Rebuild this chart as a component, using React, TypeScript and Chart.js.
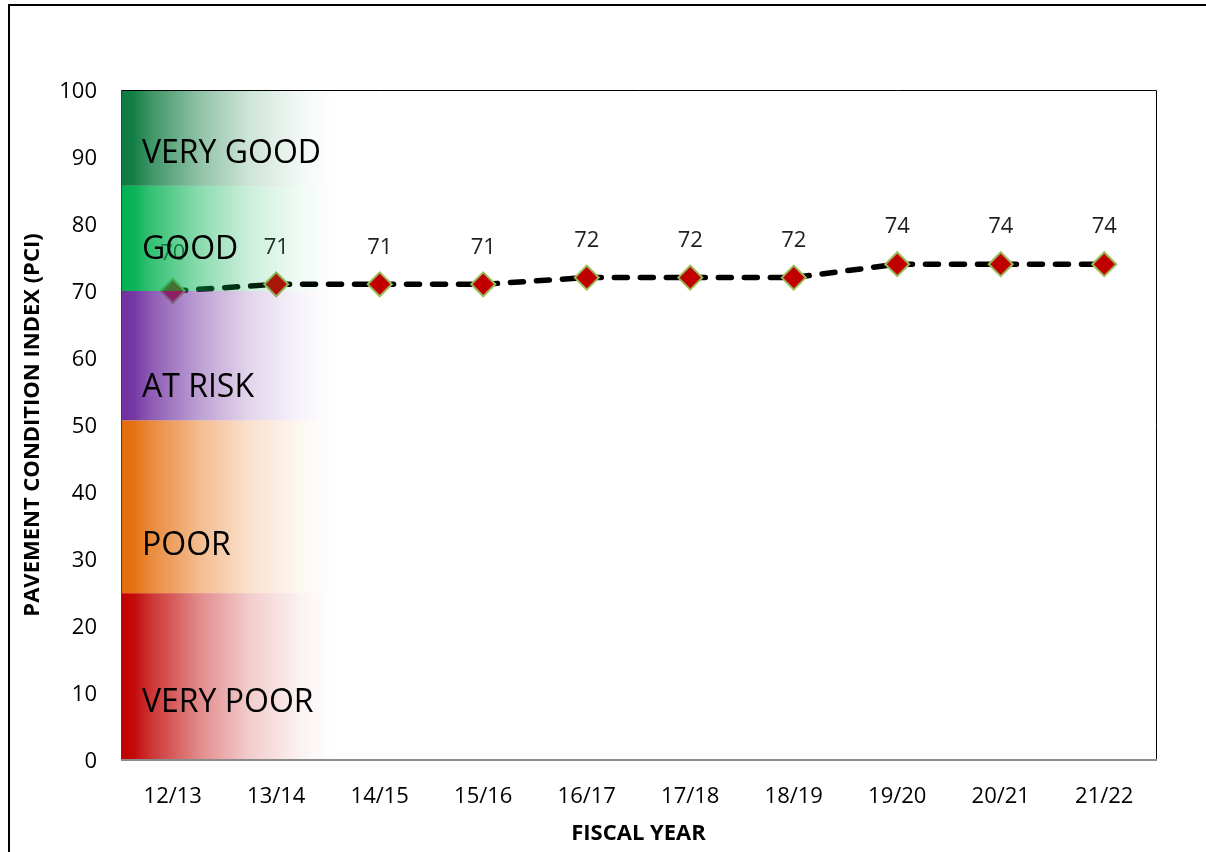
import React, { useEffect, useRef } from "react";
import { Chart, registerables } from "chart.js";

Chart.register(...registerables);

const categories = ["12/13", "13/14", "14/15", "15/16", "16/17", "17/18", "18/19", "19/20", "20/21", "21/22"];
const pciValues = [70, 71, 71, 71, 72, 72, 72, 74, 74, 74];

const bandNames = ["VERY POOR", "POOR", "AT RISK", "GOOD", "VERY GOOD"];
const bandLower = [0, 24.9, 50.7, 70, 85.7];
const bandUpper = [24.9, 50.7, 70, 85.7, 100];
const bandColors = ["192,0,0", "228,108,10", "112,48,160", "0,176,80", "11,122,62"];
const bandLabelValues = [7.2, 30.6, 54.2, 74.8, 89.1];

const yMin = 0;
const yMax = 100;
const yStep = 10;

const FONT = '"Open Sans", "Noto Sans", sans-serif';

const overlayPlugin = {
  id: "overlayPlugin",
  afterDatasetsDraw(chart: any) {
    const { ctx, chartArea: a, scales } = chart;
    const x = scales.x;
    const y = scales.y;
    ctx.save();

    // value labels
    ctx.font = `22px ${FONT}`;
    ctx.fillStyle = "#1f1f1f";
    ctx.textAlign = "center";
    ctx.textBaseline = "middle";
    pciValues.forEach((v, i) => {
      const px = x.getPixelForValue(i);
      const py = y.getPixelForValue(v);
      ctx.fillText(String(v), px, py - 37);
    });

    // bands (gradient overlay fading to the right)
    const fadeW = 214;
    bandColors.forEach((c, i) => {
      const top = y.getPixelForValue(bandUpper[i]);
      const bot = y.getPixelForValue(bandLower[i]);
      const g = ctx.createLinearGradient(a.left, 0, a.left + fadeW, 0);
      g.addColorStop(0, `rgba(${c},1)`);
      g.addColorStop(0.06, `rgba(${c},0.96)`);
      g.addColorStop(0.135, `rgba(${c},0.8)`);
      g.addColorStop(0.37, `rgba(${c},0.45)`);
      g.addColorStop(0.6, `rgba(${c},0.2)`);
      g.addColorStop(0.84, `rgba(${c},0.05)`);
      g.addColorStop(1, `rgba(${c},0)`);
      ctx.fillStyle = g;
      ctx.fillRect(a.left, top, fadeW, bot - top);
    });

    // band names
    ctx.font = `32px ${FONT}`;
    ctx.fillStyle = "#000";
    ctx.textAlign = "left";
    ctx.textBaseline = "alphabetic";
    bandNames.forEach((n, i) => {
      ctx.fillText(n, a.left + 21, y.getPixelForValue(bandLabelValues[i]));
    });

    // plot border
    ctx.lineWidth = 1;
    ctx.strokeStyle = "#000";
    ctx.beginPath();
    ctx.moveTo(a.left, a.top + 0.5);
    ctx.lineTo(a.right + 0.5, a.top + 0.5);
    ctx.lineTo(a.right + 0.5, a.bottom);
    ctx.stroke();
    ctx.strokeStyle = "#404040";
    ctx.beginPath();
    ctx.moveTo(a.left + 0.5, a.top);
    ctx.lineTo(a.left + 0.5, a.bottom);
    ctx.stroke();
    ctx.strokeStyle = "#8c8c8c";
    ctx.lineWidth = 2;
    ctx.beginPath();
    ctx.moveTo(a.left, a.bottom);
    ctx.lineTo(a.right + 1, a.bottom);
    ctx.stroke();

    ctx.restore();
  },
};

export default function App() {
  const canvasRef = useRef<HTMLCanvasElement | null>(null);

  useEffect(() => {
    const canvas = canvasRef.current;
    if (!canvas) return;
    const chart = new Chart(canvas, {
      type: "line",
      data: {
        labels: categories,
        datasets: [
          {
            data: pciValues,
            borderColor: "#000",
            borderWidth: 5.5,
            borderDash: [13, 13],
            borderCapStyle: "round",
            tension: 0,
            fill: false,
            pointStyle: "rectRot",
            pointRadius: 12,
            pointHoverRadius: 12,
            pointBackgroundColor: "#C00000",
            pointBorderColor: "#9BBB59",
            pointBorderWidth: 2,
          },
        ],
      },
      options: {
        responsive: false,
        animation: false,
        events: [],
        layout: { padding: { left: 0, top: 90, right: 50, bottom: 0 } },
        plugins: {
          legend: { display: false },
          tooltip: { enabled: false },
          title: { display: false },
        },
        scales: {
          x: {
            type: "category",
            offset: true,
            grid: { display: false, drawTicks: false },
            border: { display: false },
            ticks: {
              color: "#000",
              font: { family: FONT, size: 22 },
              padding: 24,
              maxRotation: 0,
              autoSkip: false,
            },
            title: {
              display: true,
              text: "FISCAL YEAR",
              color: "#000",
              font: { family: FONT, size: 22, weight: "bold" },
              padding: { top: 0, bottom: 5 },
            },
            afterFit: (s: any) => {
              s.height = 92;
            },
          },
          y: {
            min: yMin,
            max: yMax,
            grid: { display: false, drawTicks: false },
            border: { display: false },
            ticks: {
              stepSize: yStep,
              color: "#000",
              font: { family: FONT, size: 22 },
              padding: 24,
              labelOffset: 2,
            },
            title: {
              display: true,
              text: "PAVEMENT CONDITION INDEX (PCI)",
              color: "#000",
              font: { family: FONT, size: 22, weight: "bold" },
              padding: { top: 20, bottom: 0 },
            },
            afterFit: (s: any) => {
              s.width = 121;
            },
          },
        },
      },
      plugins: [overlayPlugin],
    });
    return () => chart.destroy();
  }, []);

  return (
    <div
      style={{
        position: "fixed",
        left: 0,
        top: 0,
        width: 1206,
        height: 852,
        overflow: "hidden",
        background: "#fff",
      }}
    >
      <div
        style={{
          position: "absolute",
          left: 8,
          top: 4,
          width: 1230,
          height: 900,
          border: "2px solid #000",
          boxSizing: "border-box",
        }}
      />
      <canvas
        ref={canvasRef}
        width={1206}
        height={852}
        style={{ position: "absolute", left: 0, top: 0, width: 1206, height: 852 }}
      />
    </div>
  );
}
